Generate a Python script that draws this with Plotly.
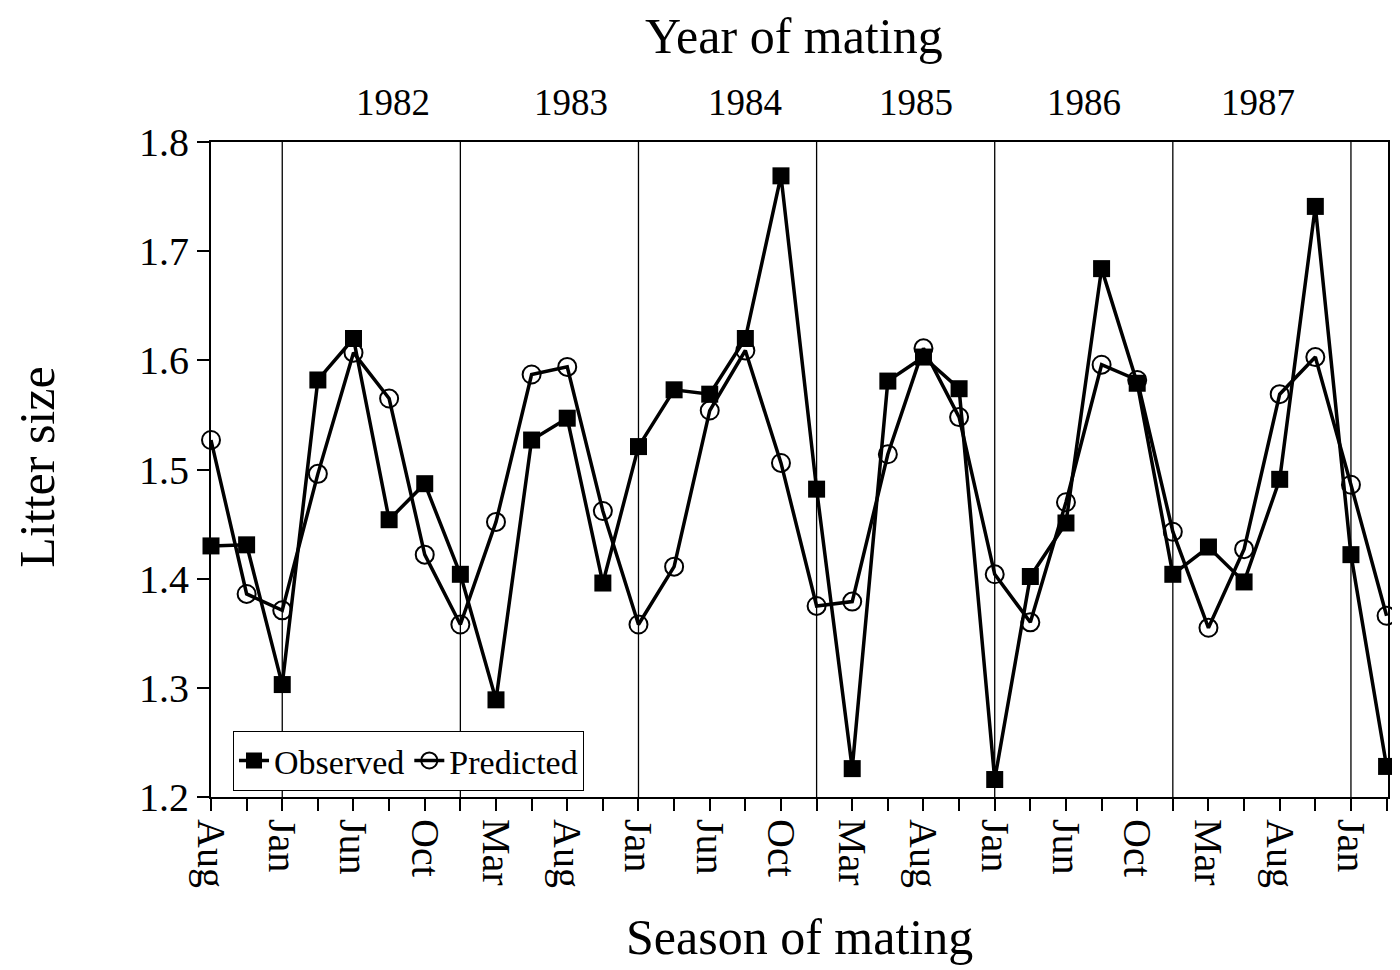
import plotly.graph_objects as go

# ---- data ----
season_labels = ["Aug", "Jan", "Jun", "Oct", "Mar", "Aug", "Jan", "Jun", "Oct",
                 "Mar", "Aug", "Jan", "Jun", "Oct", "Mar", "Aug", "Jan"]
observed = [1.430, 1.431, 1.303, 1.582, 1.620, 1.454, 1.487, 1.404, 1.289, 1.527,
            1.547, 1.396, 1.521, 1.573, 1.569, 1.620, 1.769, 1.482, 1.226, 1.581,
            1.603, 1.574, 1.216, 1.402, 1.451, 1.684, 1.579, 1.404, 1.429, 1.397,
            1.491, 1.741, 1.422, 1.228]
predicted = [1.527, 1.386, 1.371, 1.496, 1.607, 1.565, 1.422, 1.358, 1.452, 1.587,
             1.594, 1.462, 1.358, 1.411, 1.554, 1.609, 1.506, 1.375, 1.379, 1.514,
             1.611, 1.548, 1.404, 1.360, 1.470, 1.596, 1.582, 1.443, 1.355, 1.427,
             1.569, 1.603, 1.486, 1.366]
years = ["1982", "1983", "1984", "1985", "1986", "1987"]
year_breaks = [2, 7, 12, 17, 22, 27, 32]          # season index where a new year starts
y_ticks = [1.2, 1.3, 1.4, 1.5, 1.6, 1.7, 1.8]

# ---- layout constants ----
year_label_x = [5.1, 10.1, 15.0, 19.8, 24.5, 29.4]
FONT = "Liberation Serif"

idx = list(range(len(observed)))
ticktext = []
for i in idx:
    ticktext.append(season_labels[i // 2] if i % 2 == 0 else "")

fig = go.Figure()
fig.add_trace(go.Scatter(
    x=idx, y=observed, mode="lines+markers", name="Observed",
    line=dict(color="black", width=3.5),
    marker=dict(symbol="square", size=17, color="black"),
    cliponaxis=False,
))
fig.add_trace(go.Scatter(
    x=idx, y=predicted, mode="lines+markers", name="Predicted",
    line=dict(color="black", width=3.5),
    marker=dict(symbol="circle-open", size=18, color="black", line=dict(width=2)),
    cliponaxis=False,
))

for b in year_breaks:
    fig.add_shape(type="line", xref="x", yref="paper", x0=b, x1=b, y0=0, y1=1,
                  line=dict(color="black", width=1.3), layer="below")

annotations = []
for yr, xp in zip(years, year_label_x):
    annotations.append(dict(text=yr, x=xp, xref="x", y=1.06, yref="paper",
                            showarrow=False, font=dict(family=FONT, size=37, color="black"),
                            xanchor="center", yanchor="middle"))
annotations.append(dict(text="Year of mating", x=0.495, xref="paper", y=1.162, yref="paper",
                        showarrow=False, font=dict(family=FONT, size=50, color="black"),
                        xanchor="center", yanchor="middle", borderpad=0))
annotations.append(dict(text="Season of mating", x=0.50, xref="paper", y=-0.214, yref="paper",
                        showarrow=False, font=dict(family=FONT, size=50, color="black"),
                        xanchor="center", yanchor="middle", borderpad=0))
annotations.append(dict(text="Litter size", x=-0.148, xref="paper", y=0.504, yref="paper",
                        showarrow=False, textangle=-90,
                        font=dict(family=FONT, size=50, color="black"),
                        xanchor="center", yanchor="middle", borderpad=0))

fig.update_layout(
    width=1392, height=962,
    margin=dict(l=203, r=10, t=134, b=173),
    paper_bgcolor="white", plot_bgcolor="white",
    font=dict(family=FONT, color="black"),
    showlegend=True,
    legend=dict(orientation="h", x=0.0187, y=0.101, xanchor="left", yanchor="top",
                bgcolor="white", bordercolor="black", borderwidth=1,
                font=dict(family=FONT, size=34, color="black"),
                itemwidth=30),
    annotations=annotations,
)
fig.update_xaxes(
    range=[0, 33.04], tickmode="array", tickvals=idx, ticktext=ticktext,
    tickangle=90, ticks="outside", ticklen=12, tickwidth=1.5, tickcolor="black",
    showline=True, linecolor="black", linewidth=2, mirror=True,
    showgrid=False, zeroline=False,
    tickfont=dict(family=FONT, size=40, color="black"),
)
fig.update_yaxes(
    range=[1.2, 1.8], tickmode="array", tickvals=y_ticks,
    ticktext=[f"{v:.1f}" for v in y_ticks],
    ticks="outside", ticklen=12, tickwidth=1.5, tickcolor="black",
    showline=True, linecolor="black", linewidth=2, mirror=True,
    showgrid=False, zeroline=False,
    tickfont=dict(family=FONT, size=40, color="black"),
)

fig.write_html("out.html")
